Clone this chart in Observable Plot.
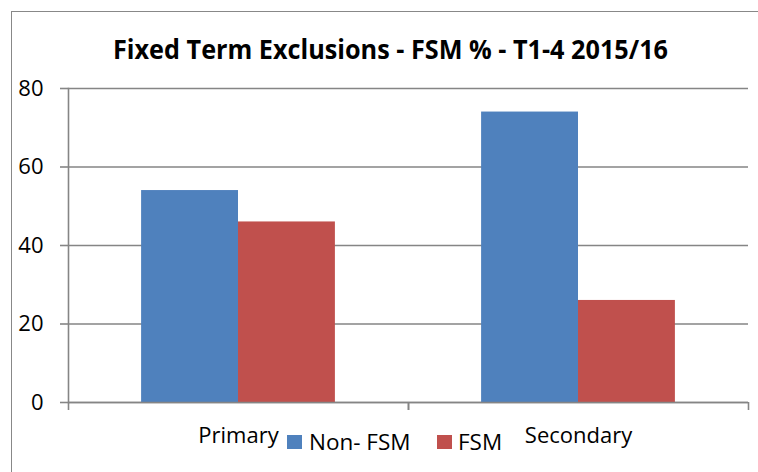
<!DOCTYPE html>
<html><head><meta charset="utf-8">
<script src="https://cdn.jsdelivr.net/npm/d3@7"></script>
<script src="https://cdn.jsdelivr.net/npm/@observablehq/plot@0.6"></script>
<style>
html,body{margin:0;padding:0;background:#fff;overflow:hidden;}
#wrap{position:relative;width:758px;height:472px;overflow:hidden;font-family:"Open Sans",sans-serif;color:#000;}
#border{position:absolute;left:11px;top:11px;width:800px;height:500px;border:1.5px solid #888;box-sizing:border-box;}
#chart{position:absolute;left:0;top:0;}
#title{position:absolute;top:33px;left:0;white-space:nowrap;font-family:"Open Sans",sans-serif;font-weight:bold;font-size:26px;line-height:32px;transform-origin:0 0;}
.lg{position:absolute;font-size:22.5px;line-height:22px;white-space:nowrap;}
.sw{position:absolute;width:15px;height:14px;}
</style>
</head><body>
<div id="wrap">
  <div id="border"></div>
  <div id="chart"></div>
  <div id="title">Fixed Term Exclusions - FSM % - T1-4 2015/16</div>
  <div id="legend"></div>
</div>
<script>
const titleText = "Fixed Term Exclusions - FSM % - T1-4 2015/16";
const categories = ["Primary", "Secondary"];
const series = ["Non- FSM", "FSM"];
const nonFsmValues = [54, 74];
const fsmValues = [46, 26];
const yTicks = [0, 20, 40, 60, 80];
const colors = ["#4F81BD", "#C0504D"];

const rows = [];
categories.forEach((c, i) => {
  rows.push({category: c, series: series[0], value: nonFsmValues[i]});
  rows.push({category: c, series: series[1], value: fsmValues[i]});
});

const W = 758, H = 472, mL = 68, mR = 10, mT = 88, mB = 70;
const bw = (W - mL - mR) / categories.length;
const barW = bw * 0.285;
const outer = bw / 2 - barW;
const gray = "#858585";

const chart = Plot.plot({
  width: W, height: H,
  marginLeft: mL, marginRight: mR, marginTop: mT, marginBottom: mB,
  style: {fontFamily: "'Open Sans', sans-serif", fontSize: "22px", color: "#000", background: "transparent"},
  x: {type: "band", domain: categories, padding: 0},
  y: {domain: [0, 80]},
  marks: [
    Plot.gridY(yTicks, {stroke: gray, strokeOpacity: 1, strokeWidth: 1.6}),
    Plot.barY(rows.filter(d => d.series === series[0]), {x: "category", y: "value", fill: colors[0], insetLeft: outer, insetRight: bw / 2}),
    Plot.barY(rows.filter(d => d.series === series[1]), {x: "category", y: "value", fill: colors[1], insetLeft: bw / 2, insetRight: outer}),
    Plot.frame({anchor: "left", stroke: gray, strokeWidth: 1.6}),
    Plot.ruleY([0], {stroke: gray, strokeWidth: 1.6}),
    Plot.axisY({ticks: yTicks, tickSize: 8, tickPadding: 17, fontSize: 22, stroke: gray, strokeWidth: 1.6, label: null}),
    Plot.axisX({tickSize: 0, tickPadding: 25, fontSize: 22, label: null}),
    Plot.axisX({tickSize: 8, tickFormat: () => "", dx: -bw / 2, stroke: gray, strokeWidth: 1.6, label: null}),
    Plot.axisX({tickSize: 8, tickFormat: () => "", dx: bw / 2, stroke: gray, strokeWidth: 1.6, label: null})
  ]
});
document.getElementById("chart").appendChild(chart);

// title: fit to reference width, centred
const t = document.getElementById("title");
t.textContent = titleText;
const tw = t.getBoundingClientRect().width;
const targetW = 555, centerX = 390;
const s = targetW / tw;
t.style.left = (centerX - targetW / 2) + "px";
t.style.transform = `scaleX(${s})`;

// legend
const legend = document.getElementById("legend");
const legendItems = [
  {label: series[0], color: colors[0], sx: 287, tx: 309},
  {label: series[1], color: colors[1], sx: 437, tx: 458}
];
legendItems.forEach(it => {
  const sw = document.createElement("div");
  sw.className = "sw"; sw.style.left = it.sx + "px"; sw.style.top = "435px"; sw.style.background = it.color;
  legend.appendChild(sw);
  const tx = document.createElement("div");
  tx.className = "lg"; tx.style.left = it.tx + "px"; tx.style.top = "431px"; tx.textContent = it.label;
  legend.appendChild(tx);
});
</script>
</body></html>
